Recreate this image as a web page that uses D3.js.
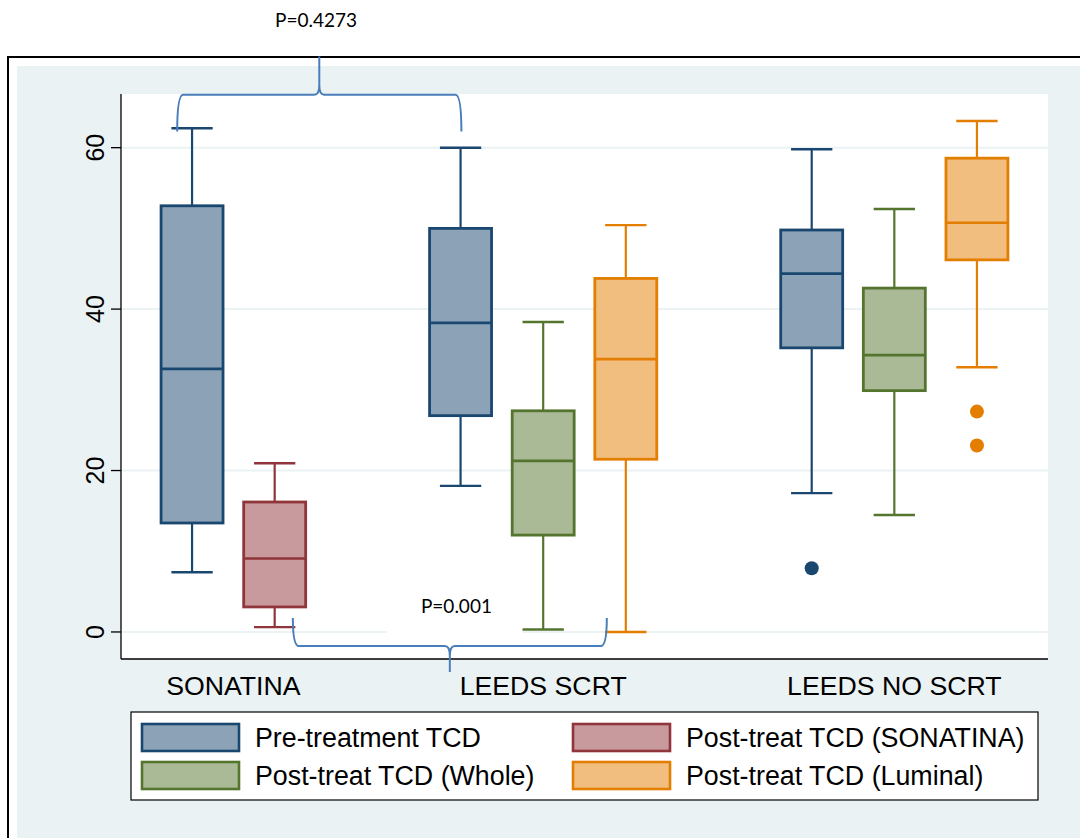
<!DOCTYPE html>
<html>
<head>
<meta charset="utf-8">
<script src="https://cdn.jsdelivr.net/npm/d3@7"></script>
<style>
  html, body { margin: 0; padding: 0; background: #ffffff; }
  svg { display: block; }
</style>
</head>
<body>
<svg id="chart" width="1080" height="838"></svg>
<script>
// ---- data ----
const categories = ["SONATINA", "LEEDS SCRT", "LEEDS NO SCRT"];
const seriesNames = ["Pre-treatment TCD", "Post-treat TCD (SONATINA)", "Post-treat TCD (Whole)", "Post-treat TCD (Luminal)"];
// box statistics per category: [lower whisker, q1, median, q3, upper whisker]
const preTreatment   = [[7.4, 13.5, 32.6, 52.8, 62.4], [18.1, 26.8, 38.3, 50.0, 60.0], [17.2, 35.2, 44.4, 49.8, 59.8]];
const postSonatina   = [[0.6, 3.1, 9.1, 16.1, 20.9], null, null];
const postWhole      = [null, [0.3, 12.0, 21.2, 27.4, 38.4], [14.5, 29.9, 34.3, 42.6, 52.4]];
const postLuminal    = [null, [0.0, 21.4, 33.8, 43.8, 50.4], [32.8, 46.1, 50.7, 58.7, 63.3]];
const preOutliers     = [[], [], [7.9]];
const sonatinaOutliers = [[], [], []];
const wholeOutliers   = [[], [], []];
const luminalOutliers = [[], [], [27.3, 23.1]];
const yTicks = [0, 20, 40, 60];
const pTop = "P=0.4273";
const pBottom = "P=0.001";

const lineColors = ["#1a476f", "#90353b", "#55752f", "#e37e00"];
const fillColors = ["#8ca3b7", "#c89a9d", "#aaba97", "#f1be7f"];

const seriesStats = [preTreatment, postSonatina, postWhole, postLuminal];
const seriesOutliers = [preOutliers, sonatinaOutliers, wholeOutliers, luminalOutliers];

// ---- layout ----
const svg = d3.select("#chart");
const plot = { left: 121, right: 1048, top: 94, bottom: 659 };
const bgColor = "#eaf2f3";

// outer frame and graph region
svg.append("rect").attr("x", 8).attr("y", 57).attr("width", 1100).attr("height", 900)
  .attr("fill", "#ffffff").attr("stroke", "#000").attr("stroke-width", 2);
svg.append("rect").attr("x", 17).attr("y", 66).attr("width", 1100).attr("height", 900)
  .attr("fill", bgColor);
svg.append("rect").attr("x", plot.left).attr("y", plot.top)
  .attr("width", plot.right - plot.left).attr("height", plot.bottom - plot.top)
  .attr("fill", "#ffffff");

// ---- scales ----
// slots: boxes within a category are one unit apart, categories separated by a wider gap
const groupStart = [0, 3.25, 7.5];
const x = d3.scaleLinear().domain([-0.86, 10.36]).range([plot.left, plot.right]);
const y = d3.scaleLinear().domain([-3.35, 66.65]).range([plot.bottom, plot.top]);
const boxW = x(0.75) - x(0);
const capW = x(0.5) - x(0);

// collect boxes
const boxes = [];
const groupSlots = categories.map(() => []);
categories.forEach((cat, g) => {
  let k = 0;
  seriesStats.forEach((stats, s) => {
    if (stats[g]) {
      const slot = groupStart[g] + k;
      boxes.push({ g, s, slot, st: stats[g], out: seriesOutliers[s][g] });
      groupSlots[g].push(slot);
      k++;
    }
  });
});

// gridlines
svg.append("g").selectAll("line").data(yTicks).join("line")
  .attr("x1", plot.left).attr("x2", plot.right)
  .attr("y1", d => y(d)).attr("y2", d => y(d))
  .attr("stroke", bgColor).attr("stroke-width", 2);

// white text panel behind the lower p-value
svg.append("rect")
  .attr("x", x(2.36)).attr("y", y(5.3))
  .attr("width", x(4.0) - x(2.36)).attr("height", y(-0.9) - y(5.3))
  .attr("fill", "#ffffff");

// axes
const yAxis = svg.append("g").attr("transform", `translate(${plot.left},0)`);
yAxis.append("line").attr("x1", 0).attr("x2", 0).attr("y1", plot.top).attr("y2", plot.bottom)
  .attr("stroke", "#000").attr("stroke-width", 1.3);
yAxis.selectAll("line.tick").data(yTicks).join("line").attr("class", "tick")
  .attr("x1", -10).attr("x2", 0).attr("y1", d => y(d)).attr("y2", d => y(d))
  .attr("stroke", "#000").attr("stroke-width", 1.3);
yAxis.selectAll("text").data(yTicks).join("text")
  .attr("transform", d => `translate(-17,${y(d)}) rotate(-90)`)
  .attr("text-anchor", "middle")
  .attr("font-family", "Liberation Sans, Arial, sans-serif")
  .attr("font-size", 25)
  .attr("fill", "#000")
  .text(d => d);

svg.append("line").attr("x1", plot.left).attr("x2", plot.right)
  .attr("y1", plot.bottom).attr("y2", plot.bottom)
  .attr("stroke", "#000").attr("stroke-width", 1.3);

svg.append("g").selectAll("text").data(categories).join("text")
  .attr("x", (d, g) => x(d3.mean(groupSlots[g])))
  .attr("y", 695)
  .attr("text-anchor", "middle")
  .attr("font-family", "Liberation Sans, Arial, sans-serif")
  .attr("font-size", 26.7)
  .attr("fill", "#000")
  .text(d => d);

// box plots
const bg = svg.append("g");
boxes.forEach(b => {
  const cx = x(b.slot);
  const [lo, q1, med, q3, hi] = b.st;
  const col = lineColors[b.s];
  const gB = bg.append("g");
  gB.append("line").attr("x1", cx).attr("x2", cx).attr("y1", y(q3)).attr("y2", y(hi))
    .attr("stroke", col).attr("stroke-width", 2.2);
  gB.append("line").attr("x1", cx).attr("x2", cx).attr("y1", y(q1)).attr("y2", y(lo))
    .attr("stroke", col).attr("stroke-width", 2.2);
  gB.append("line").attr("x1", cx - capW / 2).attr("x2", cx + capW / 2).attr("y1", y(hi)).attr("y2", y(hi))
    .attr("stroke", col).attr("stroke-width", 2.4);
  gB.append("line").attr("x1", cx - capW / 2).attr("x2", cx + capW / 2).attr("y1", y(lo)).attr("y2", y(lo))
    .attr("stroke", col).attr("stroke-width", 2.4);
  gB.append("rect").attr("x", cx - boxW / 2).attr("y", y(q3))
    .attr("width", boxW).attr("height", y(q1) - y(q3))
    .attr("fill", fillColors[b.s]).attr("stroke", col).attr("stroke-width", 2.8);
  gB.append("line").attr("x1", cx - boxW / 2).attr("x2", cx + boxW / 2).attr("y1", y(med)).attr("y2", y(med))
    .attr("stroke", col).attr("stroke-width", 2.6);
  gB.selectAll("circle").data(b.out).join("circle")
    .attr("cx", cx).attr("cy", d => y(d)).attr("r", 7)
    .attr("fill", col);
});

// braces with p-values
const braceColor = "#4a7ebb";
function brace(x0, x1, yEnd, yBar, yTip) {
  const xl = x(x0), xr = x(x1), xm = (xl + xr) / 2;
  const ye = y(yEnd), yb = y(yBar), yt = y(yTip);
  const dir = Math.sign(ye - yb); // ends point toward the data
  const p = d3.path();
  p.moveTo(xl, ye);
  p.quadraticCurveTo(xl, yb, xl + 6, yb);
  p.lineTo(xm - 5, yb);
  p.quadraticCurveTo(xm, yb, xm, yb - dir * 10);
  p.lineTo(xm, yt);
  p.moveTo(xm, yb - dir * 10);
  p.quadraticCurveTo(xm, yb, xm + 5, yb);
  p.lineTo(xr - 6, yb);
  p.quadraticCurveTo(xr, yb, xr, ye);
  svg.append("path").attr("d", p.toString())
    .attr("fill", "none").attr("stroke", braceColor).attr("stroke-width", 2);
}
brace(-0.18, 3.26, 62.0, 66.57, 71.3);
brace(1.22, 5.02, 1.74, -1.74, -4.96);

svg.append("text").attr("x", x(1.5)).attr("y", 27)
  .attr("text-anchor", "middle")
  .attr("font-family", "Lato, 'Open Sans', sans-serif").attr("font-size", 19)
  .attr("fill", "#000").text(pTop);
svg.append("text").attr("x", x(3.2)).attr("y", y(2.3))
  .attr("text-anchor", "middle")
  .attr("font-family", "Lato, 'Open Sans', sans-serif").attr("font-size", 19)
  .attr("fill", "#000").text(pBottom);

// legend
const legend = svg.append("g");
legend.append("rect").attr("x", 131).attr("y", 712).attr("width", 907).attr("height", 88)
  .attr("fill", "#ffffff").attr("stroke", "#000").attr("stroke-width", 1.2);
const legendPos = [[142, 724], [573, 724], [142, 762], [573, 762]];
seriesNames.forEach((name, s) => {
  const [lx, ly] = legendPos[s];
  legend.append("rect").attr("x", lx).attr("y", ly).attr("width", 97).attr("height", 27)
    .attr("fill", fillColors[s]).attr("stroke", lineColors[s]).attr("stroke-width", 2.6);
  legend.append("text").attr("x", lx + 113).attr("y", ly + 23)
    .attr("font-family", "Liberation Sans, Arial, sans-serif").attr("font-size", 26.8)
    .attr("fill", "#000").text(name);
});
</script>
</body>
</html>
